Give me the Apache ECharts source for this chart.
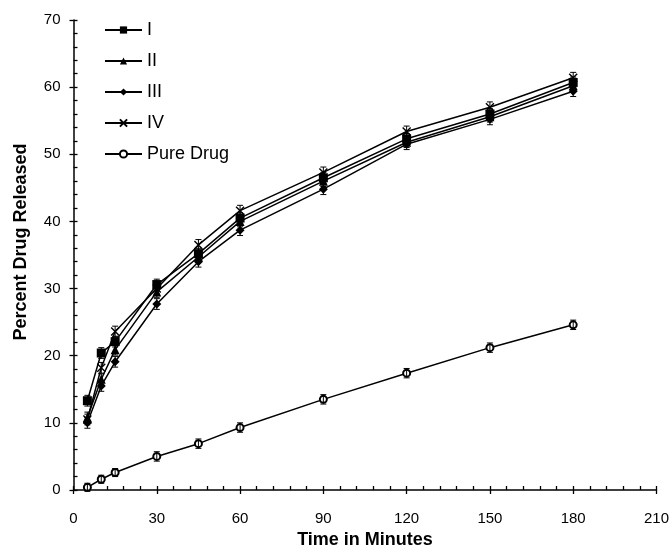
<!DOCTYPE html>
<html><head><meta charset="utf-8">
<script src="https://cdn.jsdelivr.net/npm/echarts@6/dist/echarts.min.js"></script>
<style>html,body{margin:0;padding:0;background:#fff}#c{width:672px;height:554px}</style>
</head><body><div id="c"></div>
<script>
var times = [5, 10, 15, 30, 45, 60, 90, 120, 150, 180];
var seriesI = [13.3, 20.4, 22.1, 30.6, 35.2, 40.5, 46.5, 52.3, 56.0, 60.7];
var seriesII = [10.8, 16.5, 20.9, 29.5, 34.7, 40.0, 46.0, 51.8, 55.6, 60.2];
var seriesIII = [10.0, 15.5, 19.1, 27.7, 34.0, 38.7, 44.8, 51.5, 55.2, 59.4];
var seriesIV = [10.5, 18.2, 23.6, 30.0, 36.5, 41.6, 47.3, 53.4, 57.0, 61.4];
var seriesPure = [0.4, 1.6, 2.6, 5.0, 6.9, 9.3, 13.5, 17.4, 21.2, 24.6];
// estimated error-bar half lengths (read from the small caps around markers)
var errI = [0.8, 0.8, 0.8, 0.8, 0.8, 0.8, 0.8, 0.8, 0.8, 0.8];
var errII = [0.8, 0.8, 0.8, 0.8, 0.8, 0.8, 0.8, 0.8, 0.8, 0.8];
var errIII = [0.8, 0.8, 0.8, 0.8, 0.8, 0.8, 0.8, 0.8, 0.8, 0.8];
var errIV = [0.8, 0.8, 0.8, 0.8, 0.8, 0.8, 0.8, 0.8, 0.8, 0.8];
var errPure = [0.6, 0.6, 0.6, 0.7, 0.7, 0.7, 0.7, 0.7, 0.7, 0.7];
var names = ['I', 'II', 'III', 'IV', 'Pure Drug'];
var xTicks = [0, 30, 60, 90, 120, 150, 180, 210];
var yTicks = [0, 10, 20, 30, 40, 50, 60, 70];

function pts(v) { return times.map(function (t, i) { return [t, v[i]]; }); }
var FONT = '"Liberation Sans", Arial, sans-serif';
var crossPath = 'path://M0,0L10,10M10,0L0,10';
var symbols = ['rect', 'triangle', 'diamond', crossPath, 'emptyCircle'];
var sizes = [9, 9, 9, 8, 7];
var data = [seriesI, seriesII, seriesIII, seriesIV, seriesPure];
var errs = [errI, errII, errIII, errIV, errPure];

var series = data.map(function (d, k) {
  return {
    name: names[k], type: 'line', data: pts(d), symbol: symbols[k], symbolSize: sizes[k],
    showAllSymbol: true, xAxisIndex: 0, yAxisIndex: 0,
    lineStyle: { color: '#000', width: 1.5, type: 'solid' },
    itemStyle: (k >= 3) ? { color: '#000', borderColor: '#000', borderWidth: 1.4 } :
      { color: '#000', borderColor: '#000', borderWidth: 0 },
    emphasis: { disabled: true }, animation: false, z: 3
  };
});
data.forEach(function (d, k) {
  series.push({
    type: 'custom', xAxisIndex: 0, yAxisIndex: 0, z: 4, silent: true,
    data: times.map(function (t, i) { return [t, d[i] - errs[k][i], d[i] + errs[k][i]]; }),
    renderItem: function (params, api) {
      var lo = api.coord([api.value(0), api.value(1)]);
      var hi = api.coord([api.value(0), api.value(2)]);
      var w = 3;
      return {
        type: 'group', children: [
          { type: 'line', shape: { x1: lo[0], y1: lo[1], x2: hi[0], y2: hi[1] }, style: { stroke: '#000', lineWidth: 1 } },
          { type: 'line', shape: { x1: lo[0] - w, y1: lo[1], x2: lo[0] + w, y2: lo[1] }, style: { stroke: '#000', lineWidth: 1 } },
          { type: 'line', shape: { x1: hi[0] - w, y1: hi[1], x2: hi[0] + w, y2: hi[1] }, style: { stroke: '#000', lineWidth: 1 } }
        ]
      };
    }
  });
});

var grid = { left: 73.5, right: 15, top: 20, bottom: 51 };
function xAx(primary) {
  return {
    type: 'value', min: 0, max: 210, interval: 30, gridIndex: 0,
    name: primary ? 'Time in Minutes' : '', nameLocation: 'middle', nameGap: 41,
    nameTextStyle: { fontFamily: FONT, fontWeight: 'bold', fontSize: 18, color: '#000' },
    axisLine: { show: primary, onZero: false, lineStyle: { color: '#000', width: 1.5 } },
    axisTick: { show: true, inside: !primary, length: 4, lineStyle: { color: '#000', width: 1.3 } },
    minorTick: { show: !primary, splitNumber: 5, length: 4, lineStyle: { color: '#000', width: 1.3 } },
    axisLabel: { show: primary, margin: 21, fontFamily: FONT, fontSize: 15, color: '#000',
      formatter: function (v) { return xTicks.indexOf(v) >= 0 ? String(v) : ''; } },
    splitLine: { show: false }, position: 'bottom'
  };
}
function yAx(primary) {
  return {
    type: 'value', min: 0, max: 70, interval: 10, gridIndex: 0,
    axisLine: { show: primary, onZero: false, lineStyle: { color: '#000', width: 1.5 } },
    axisTick: { show: true, inside: !primary, length: 4, lineStyle: { color: '#000', width: 1.3 } },
    minorTick: { show: !primary, splitNumber: 5, length: 4, lineStyle: { color: '#000', width: 1.3 } },
    axisLabel: { show: primary, margin: 13, fontFamily: FONT, fontSize: 15, color: '#000',
      formatter: function (v) { return yTicks.indexOf(v) >= 0 ? String(v) : ''; } },
    splitLine: { show: false }, position: 'left'
  };
}

var chart = echarts.init(document.getElementById('c'), null, { renderer: 'canvas' });
chart.setOption({
  animation: false,
  backgroundColor: '#fff',
  grid: grid,
  xAxis: [xAx(true), xAx(false)],
  yAxis: [yAx(true), yAx(false)],
  legend: {
    orient: 'vertical', left: 99, top: 16, itemWidth: 37, itemHeight: 9, itemGap: 13,
    data: names,
    textStyle: { fontFamily: FONT, fontSize: 18, color: '#000' },
    inactiveColor: '#000', selectedMode: false
  },
  graphic: [{
    type: 'text', x: 21, y: 242, rotation: Math.PI / 2,
    style: { text: 'Percent Drug Released', font: 'bold 18px ' + FONT, fill: '#000',
      textAlign: 'center', textVerticalAlign: 'middle' }
  }],
  series: series
});
</script></body></html>
